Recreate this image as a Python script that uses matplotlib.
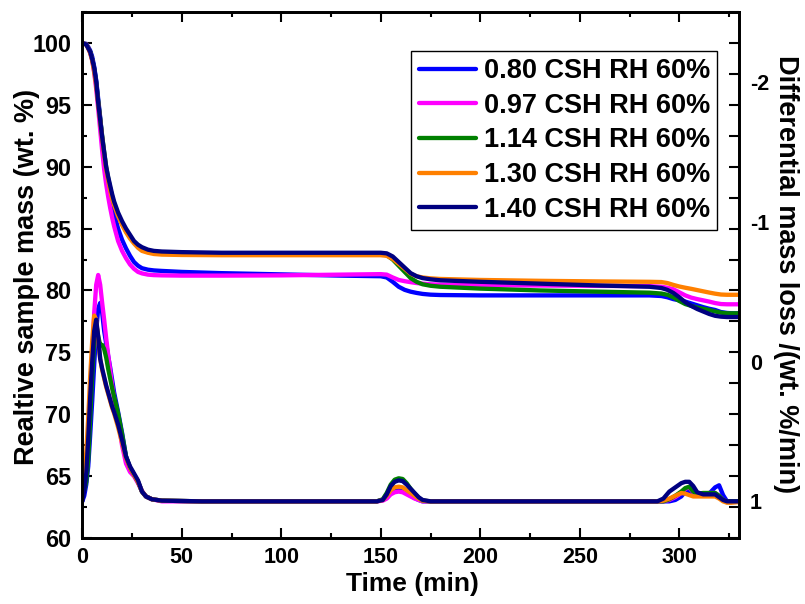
import matplotlib
matplotlib.use('Agg')
import matplotlib.pyplot as plt
from matplotlib.ticker import MultipleLocator

plt.rcParams['font.family'] = ['Liberation Sans', 'DejaVu Sans']
plt.rcParams['font.weight'] = 'bold'

# ---------------- data ----------------
labels = ['0.80 CSH RH 60%', '0.97 CSH RH 60%', '1.14 CSH RH 60%',
          '1.30 CSH RH 60%', '1.40 CSH RH 60%']

# TG time grid (min)
t_tg = [0, 2, 3, 4, 5, 6, 7, 8, 9, 10, 11, 12, 13, 14, 15, 16, 18, 20, 22, 24,
        26, 28, 30, 33, 36, 40, 50, 70, 100, 130, 150, 153, 156, 159, 162, 165,
        168, 171, 175, 180, 200, 230, 260, 285, 291, 294, 297, 300, 303, 306,
        309, 312, 315, 318, 321, 324, 327, 330]

tg_080 = [100, 99.95, 99.7, 99.4, 98.9, 98.1, 97.0, 95.5, 94.0, 92.3, 90.8, 89.5,
          88.4, 87.5, 86.9, 86.2, 85.0, 84.1, 83.4, 82.8, 82.3, 82.0, 81.8, 81.68,
          81.62, 81.58, 81.5, 81.4, 81.3, 81.2, 81.15, 81.05, 80.7, 80.3, 80.05,
          79.9, 79.8, 79.72, 79.66, 79.63, 79.6, 79.6, 79.6, 79.6, 79.55, 79.45,
          79.3, 79.2, 79.1, 78.95, 78.8, 78.65, 78.52, 78.42, 78.25, 78.18, 78.15,
          78.15]
tg_097 = [100, 99.9, 99.6, 99.2, 98.6, 97.6, 96.3, 94.7, 93.0, 91.3, 89.8, 88.6,
          87.6, 86.7, 85.9, 85.2, 84.0, 83.2, 82.6, 82.1, 81.75, 81.5, 81.38, 81.28,
          81.24, 81.22, 81.2, 81.2, 81.22, 81.28, 81.32, 81.28, 81.05, 80.85, 80.75,
          80.67, 80.6, 80.55, 80.5, 80.47, 80.42, 80.4, 80.37, 80.35, 80.3, 80.22,
          80.1, 79.85, 79.6, 79.42, 79.3, 79.2, 79.1, 78.98, 78.9, 78.88, 78.88,
          78.88]
tg_114 = [100, 99.9, 99.6, 99.3, 98.7, 97.9, 96.8, 95.3, 93.9, 92.5, 91.2, 90.0,
          89.1, 88.3, 87.6, 87.0, 86.1, 85.4, 84.8, 84.3, 83.9, 83.6, 83.4, 83.2,
          83.1, 83.05, 83.0, 82.95, 82.95, 82.95, 82.95, 82.85, 82.5, 82.0, 81.5,
          81.0, 80.7, 80.5, 80.38, 80.3, 80.15, 80.0, 79.9, 79.82, 79.75, 79.65,
          79.45, 79.15, 78.9, 78.75, 78.62, 78.52, 78.42, 78.3, 78.2, 78.15, 78.15,
          78.15]
tg_130 = [100, 99.9, 99.6, 99.2, 98.6, 97.7, 96.6, 95.1, 93.7, 92.3, 91.0, 89.8,
          88.9, 88.1, 87.4, 86.9, 86.0, 85.3, 84.7, 84.2, 83.8, 83.45, 83.2, 83.05,
          82.95, 82.9, 82.87, 82.85, 82.85, 82.85, 82.85, 82.8, 82.55, 82.15, 81.75,
          81.35, 81.15, 81.05, 80.98, 80.93, 80.85, 80.78, 80.73, 80.7, 80.68, 80.6,
          80.45, 80.32, 80.22, 80.13, 80.03, 79.93, 79.83, 79.74, 79.67, 79.65,
          79.65, 79.65]
tg_140 = [100, 99.9, 99.6, 99.3, 98.7, 98.0, 96.9, 95.2, 93.8, 92.4, 91.2, 90.0,
          89.2, 88.5, 87.8, 87.2, 86.3, 85.6, 85.0, 84.5, 84.0, 83.7, 83.5, 83.3,
          83.2, 83.15, 83.1, 83.05, 83.05, 83.05, 83.05, 83.0, 82.75, 82.3, 81.85,
          81.4, 81.15, 81.0, 80.9, 80.82, 80.7, 80.55, 80.4, 80.3, 80.2, 80.05,
          79.8, 79.45, 79.05, 78.75, 78.5, 78.3, 78.1, 77.95, 77.88, 77.85, 77.85,
          77.85]

# DTG time grid (min)
t_dtg = [0, 1, 2, 3, 4, 5, 6, 7, 8, 9, 10, 11, 12, 13, 14, 15, 16, 18, 20, 22,
         24, 26, 28, 30, 32, 35, 40, 60, 100, 148, 151, 153, 155, 157, 159, 161,
         163, 165, 167, 169, 171, 175, 200, 250, 289, 292, 295, 298, 301, 303,
         305, 307, 309, 312, 315, 318, 320, 322, 324, 326, 330]

dtg_080 = [1.0, 0.96, 0.88, 0.75, 0.52, 0.28, 0.02, -0.22, -0.38, -0.42, -0.35,
           -0.22, -0.13, -0.04, 0.04, 0.13, 0.22, 0.36, 0.51, 0.68, 0.76, 0.81,
           0.86, 0.93, 0.965, 0.985, 0.995, 1.0, 1.0, 1.0, 0.99, 0.975, 0.94,
           0.92, 0.915, 0.92, 0.94, 0.96, 0.975, 0.99, 1.0, 1.0, 1.0, 1.0, 1.0,
           1.0, 1.0, 0.99, 0.965, 0.93, 0.925, 0.945, 0.95, 0.95, 0.945, 0.90,
           0.885, 0.955, 1.0, 1.0, 1.0]
dtg_097 = [0.85, 0.82, 0.72, 0.52, 0.25, -0.05, -0.35, -0.55, -0.62, -0.55, -0.42,
           -0.30, -0.17, -0.05, 0.06, 0.17, 0.26, 0.42, 0.60, 0.73, 0.79, 0.82,
           0.87, 0.925, 0.965, 0.985, 1.0, 1.0, 1.0, 1.0, 0.995, 0.98, 0.95,
           0.935, 0.93, 0.935, 0.95, 0.965, 0.98, 0.99, 1.0, 1.0, 1.0, 1.0, 1.0,
           1.0, 0.99, 0.97, 0.94, 0.91, 0.90, 0.935, 0.95, 0.945, 0.94, 0.94,
           0.96, 0.99, 1.0, 1.0, 1.0]
dtg_114 = [0.95, 0.92, 0.86, 0.70, 0.40, 0.10, -0.15, -0.27, -0.18, -0.12, -0.12,
           -0.09, -0.03, 0.05, 0.12, 0.19, 0.25, 0.37, 0.52, 0.68, 0.76, 0.81,
           0.86, 0.93, 0.965, 0.985, 0.995, 1.0, 1.0, 1.0, 0.985, 0.94, 0.88,
           0.845, 0.835, 0.84, 0.87, 0.91, 0.945, 0.975, 0.995, 1.0, 1.0, 1.0,
           1.0, 1.0, 0.985, 0.96, 0.93, 0.905, 0.895, 0.93, 0.945, 0.94, 0.94,
           0.94, 0.96, 0.99, 1.0, 1.0, 1.0]
dtg_130 = [0.88, 0.80, 0.65, 0.40, 0.10, -0.15, -0.33, -0.30, -0.15, -0.02, 0.06,
           0.12, 0.18, 0.23, 0.28, 0.33, 0.37, 0.47, 0.58, 0.69, 0.76, 0.81,
           0.86, 0.93, 0.965, 0.985, 0.995, 1.0, 1.0, 1.0, 0.99, 0.96, 0.92,
           0.90, 0.895, 0.90, 0.92, 0.94, 0.96, 0.98, 0.995, 1.0, 1.0, 1.0, 1.0,
           0.995, 0.98, 0.96, 0.94, 0.945, 0.955, 0.965, 0.965, 0.965, 0.965,
           0.965, 0.98, 1.0, 1.01, 1.01, 1.005]
dtg_140 = [1.0, 0.92, 0.80, 0.55, 0.25, 0.0, -0.22, -0.30, -0.18, -0.02, 0.05,
           0.11, 0.17, 0.22, 0.27, 0.32, 0.36, 0.45, 0.56, 0.68, 0.75, 0.80,
           0.85, 0.93, 0.965, 0.985, 0.995, 1.0, 1.0, 1.0, 0.99, 0.95, 0.89,
           0.86, 0.85, 0.855, 0.88, 0.91, 0.94, 0.97, 0.99, 1.0, 1.0, 1.0, 1.0,
           0.98, 0.93, 0.90, 0.87, 0.86, 0.86, 0.89, 0.935, 0.95, 0.95, 0.95,
           0.97, 0.99, 1.0, 1.0, 1.0]

tg_series = [tg_080, tg_097, tg_114, tg_130, tg_140]
dtg_series = [dtg_080, dtg_097, dtg_114, dtg_130, dtg_140]
colors = ['#0000FF', '#FF00FF', '#008000', '#FF8000', '#000080']

# ---------------- figure ----------------
fig = plt.figure(figsize=(8.05, 6.04), dpi=100)
ax = fig.add_axes([0.1022, 0.1098, 0.8158, 0.8698])
ax2 = ax.twinx()
ax3 = ax.twinx()

lw = 3.1
handles = []
for tg, c, lab in zip(tg_series, colors, labels):
    h, = ax.plot(t_tg, tg, color=c, lw=lw, label=lab, solid_capstyle='round')
    handles.append(h)
for dtg, c in zip(dtg_series, colors):
    ax2.plot(t_dtg, dtg, color=c, lw=lw, solid_capstyle='round')

ax.set_xlim(0, 330)
ax.set_ylim(60, 102.5)
ax2.set_ylim(1.26, -2.5)
ax3.set_ylim(60, 102.5)

# left / bottom / top ticks
ax.xaxis.set_major_locator(MultipleLocator(50))
ax.xaxis.set_minor_locator(MultipleLocator(25))
ax.yaxis.set_major_locator(MultipleLocator(5))
ax.yaxis.set_minor_locator(MultipleLocator(2.5))
ax.tick_params(which='both', direction='in', top=True, right=False, width=1.5)
ax.tick_params(which='major', length=7)
ax.tick_params(which='minor', length=3.6)
ax.tick_params(axis='x', pad=7, labelsize=15.5)
ax.tick_params(axis='y', pad=8, labelsize=16.8)

# right side tick marks (mirror of left scale)
ax3.yaxis.set_major_locator(MultipleLocator(2.5))
ax3.tick_params(axis='y', which='both', direction='in', length=7, width=1.5,
                labelright=False, right=True)

# right axis labels (DTG)
ax2.set_yticks([-2, -1, 0, 1])
ax2.set_yticklabels(['-2', '-1', '0', '1'])
ax2.tick_params(axis='y', length=0, pad=8, labelsize=15.5)

for a in (ax, ax2, ax3):
    for s in a.spines.values():
        s.set_linewidth(1.8)

ax.set_xlabel('Time (min)', fontsize=19, fontweight='bold', va='center')
ax.xaxis.set_label_coords(0.5028, -0.0881)
ax.set_ylabel('Realtive sample mass (wt. %)', fontsize=19.5, fontweight='bold',
              va='center')
ax.yaxis.set_label_coords(-0.0842, 0.497)
ax2.set_ylabel('Differential mass loss /(wt. %/min)', fontsize=19.5,
               fontweight='bold', rotation=270, va='center')
ax2.yaxis.set_label_coords(1.0716, 0.502)

leg = ax3.legend(handles, labels, loc='upper right', bbox_to_anchor=(0.967, 0.927),
                 borderaxespad=0, fontsize=19.5, frameon=True, fancybox=False,
                 edgecolor='black', framealpha=1, handlelength=2.1,
                 handletextpad=0.3, borderpad=0.27, labelspacing=0.32)
leg.get_frame().set_linewidth(1.0)

fig.savefig('out.png', dpi=100)
